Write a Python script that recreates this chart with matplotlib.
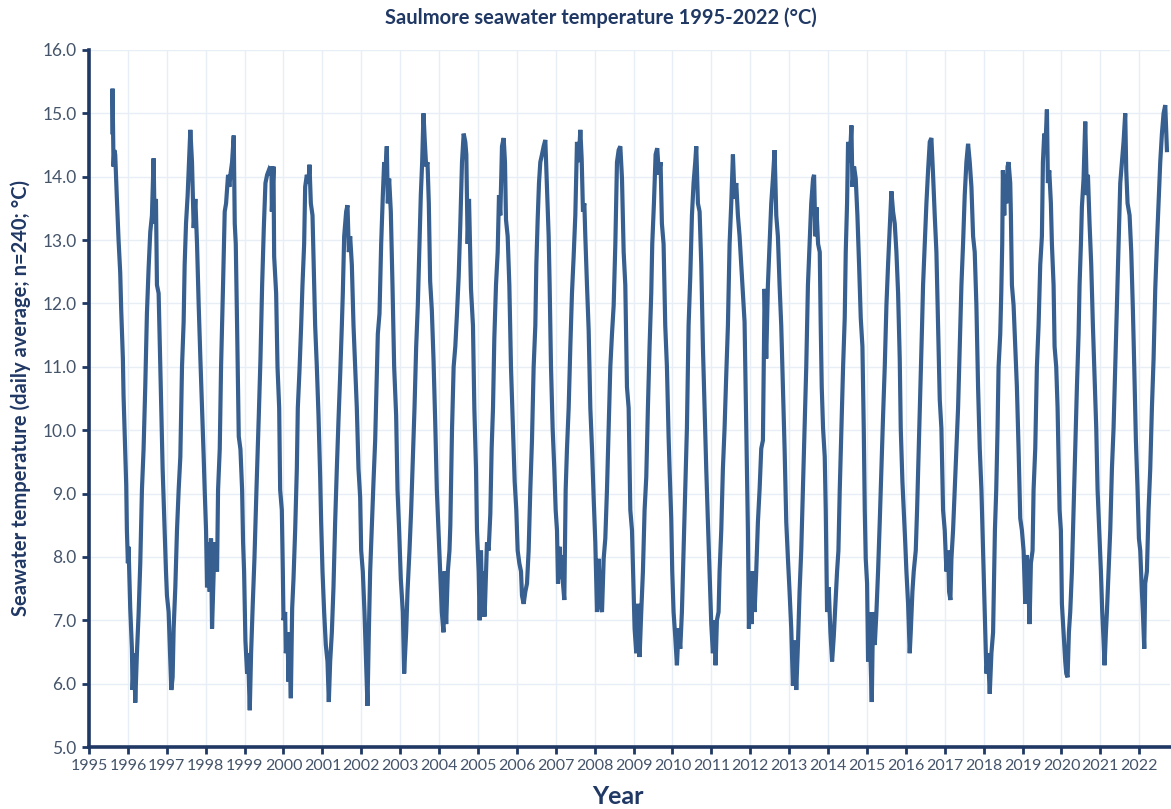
import matplotlib
matplotlib.use("Agg")
import matplotlib.pyplot as plt
from matplotlib.ticker import FormatStrFormatter, MultipleLocator

plt.rcParams['font.family'] = ['Lato', 'DejaVu Sans']

title = "Saulmore seawater temperature 1995-2022 (°C)"
y_label = "Seawater temperature (daily average; n=240; °C)"
x_label = "Year"
year_ticks = list(range(1995, 2023))

# decimal year of each reading
sample_year = [
    1995.600, 1995.605, 1995.631, 1995.650, 1995.674, 1995.717, 1995.760, 1995.803, 1995.828, 1995.871,
    1995.888, 1995.931, 1995.957, 1995.974, 1996.000, 1996.017, 1996.060, 1996.103, 1996.120, 1996.163,
    1996.189, 1996.232, 1996.275, 1996.318, 1996.361, 1996.403, 1996.446, 1996.489, 1996.532, 1996.575,
    1996.618, 1996.661, 1996.687, 1996.721, 1996.747, 1996.790, 1996.815, 1996.858, 1996.893, 1996.927,
    1996.979, 1997.004, 1997.047, 1997.073, 1997.116, 1997.150, 1997.176, 1997.219, 1997.262, 1997.305,
    1997.348, 1997.391, 1997.433, 1997.459, 1997.494, 1997.536, 1997.562, 1997.605, 1997.648, 1997.691,
    1997.734, 1997.777, 1997.820, 1997.863, 1997.906, 1997.948, 1997.974, 1998.009, 1998.034, 1998.077,
    1998.103, 1998.137, 1998.163, 1998.206, 1998.249, 1998.292, 1998.318, 1998.361, 1998.395, 1998.446,
    1998.489, 1998.524, 1998.575, 1998.609, 1998.635, 1998.678, 1998.721, 1998.747, 1998.773, 1998.807,
    1998.850, 1998.893, 1998.936, 1998.961, 1998.987, 1999.021, 1999.064, 1999.090, 1999.133, 1999.167,
    1999.210, 1999.253, 1999.305, 1999.365, 1999.408, 1999.451, 1999.494, 1999.536, 1999.579, 1999.622,
    1999.665, 1999.691, 1999.700, 1999.743, 1999.760, 1999.811, 1999.846, 1999.889, 1999.914, 1999.957,
    1999.983, 2000.000, 2000.043, 2000.060, 2000.103, 2000.129, 2000.154, 2000.189, 2000.223, 2000.257,
    2000.300, 2000.343, 2000.368, 2000.411, 2000.454, 2000.488, 2000.531, 2000.557, 2000.600, 2000.643,
    2000.668, 2000.703, 2000.746, 2000.771, 2000.814, 2000.857, 2000.900, 2000.943, 2000.968, 2001.003,
    2001.045, 2001.088, 2001.131, 2001.165, 2001.200, 2001.243, 2001.285, 2001.328, 2001.371, 2001.414,
    2001.457, 2001.500, 2001.525, 2001.560, 2001.611, 2001.645, 2001.680, 2001.714, 2001.757, 2001.800,
    2001.842, 2001.885, 2001.928, 2001.971, 2001.997, 2002.039, 2002.082, 2002.117, 2002.159, 2002.194,
    2002.228, 2002.271, 2002.314, 2002.357, 2002.399, 2002.425, 2002.468, 2002.511, 2002.554, 2002.588,
    2002.614, 2002.656, 2002.682, 2002.716, 2002.759, 2002.802, 2002.845, 2002.896, 2002.931, 2002.973,
    2003.016, 2003.068, 2003.102, 2003.153, 2003.188, 2003.239, 2003.282, 2003.325, 2003.368, 2003.411,
    2003.453, 2003.496, 2003.530, 2003.565, 2003.599, 2003.633, 2003.668, 2003.702, 2003.736, 2003.770,
    2003.813, 2003.856, 2003.899, 2003.942, 2003.985, 2004.027, 2004.070, 2004.113, 2004.139, 2004.182,
    2004.225, 2004.267, 2004.289, 2004.332, 2004.374, 2004.417, 2004.460, 2004.503, 2004.546, 2004.589,
    2004.632, 2004.674, 2004.700, 2004.734, 2004.769, 2004.820, 2004.871, 2004.906, 2004.949, 2004.974,
    2005.017, 2005.043, 2005.077, 2005.111, 2005.146, 2005.171, 2005.206, 2005.231, 2005.274, 2005.317,
    2005.351, 2005.386, 2005.420, 2005.463, 2005.506, 2005.540, 2005.574, 2005.617, 2005.660, 2005.694,
    2005.720, 2005.763, 2005.806, 2005.848, 2005.900, 2005.943, 2005.985, 2006.020, 2006.063, 2006.106,
    2006.131, 2006.174, 2006.217, 2006.260, 2006.302, 2006.345, 2006.388, 2006.431, 2006.474, 2006.500,
    2006.534, 2006.568, 2006.602, 2006.645, 2006.688, 2006.731, 2006.774, 2006.817, 2006.842, 2006.877,
    2006.919, 2006.962, 2006.997, 2007.031, 2007.057, 2007.099, 2007.117, 2007.151, 2007.185, 2007.219,
    2007.254, 2007.288, 2007.331, 2007.374, 2007.416, 2007.459, 2007.502, 2007.545, 2007.588, 2007.631,
    2007.665, 2007.699, 2007.734, 2007.759, 2007.802, 2007.845, 2007.888, 2007.931, 2007.973, 2008.016,
    2008.059, 2008.102, 2008.145, 2008.188, 2008.231, 2008.273, 2008.316, 2008.359, 2008.402, 2008.445,
    2008.488, 2008.531, 2008.573, 2008.616, 2008.659, 2008.702, 2008.745, 2008.787, 2008.830, 2008.873,
    2008.916, 2008.959, 2009.002, 2009.026, 2009.069, 2009.111, 2009.154, 2009.197, 2009.240, 2009.283,
    2009.326, 2009.368, 2009.411, 2009.454, 2009.480, 2009.523, 2009.566, 2009.608, 2009.651, 2009.694,
    2009.728, 2009.771, 2009.814, 2009.857, 2009.900, 2009.925, 2009.968, 2009.994, 2010.028, 2010.071,
    2010.114, 2010.157, 2010.200, 2010.242, 2010.285, 2010.328, 2010.371, 2010.414, 2010.457, 2010.500,
    2010.542, 2010.585, 2010.611, 2010.654, 2010.697, 2010.740, 2010.782, 2010.825, 2010.868, 2010.911,
    2010.954, 2010.997, 2011.039, 2011.082, 2011.108, 2011.142, 2011.185, 2011.211, 2011.254, 2011.296,
    2011.339, 2011.382, 2011.425, 2011.468, 2011.511, 2011.554, 2011.596, 2011.639, 2011.682, 2011.725,
    2011.768, 2011.811, 2011.853, 2011.896, 2011.939, 2011.965, 2011.999, 2012.033, 2012.068, 2012.111,
    2012.153, 2012.196, 2012.239, 2012.282, 2012.325, 2012.368, 2012.410, 2012.453, 2012.496, 2012.539,
    2012.582, 2012.625, 2012.668, 2012.710, 2012.753, 2012.796, 2012.839, 2012.882, 2012.925, 2012.968,
    2013.010, 2013.053, 2013.096, 2013.139, 2013.182, 2013.225, 2013.267, 2013.310, 2013.353, 2013.396,
    2013.439, 2013.482, 2013.524, 2013.567, 2013.614, 2013.640, 2013.674, 2013.700, 2013.743, 2013.786,
    2013.811, 2013.837, 2013.871, 2013.914, 2013.940, 2013.957, 2013.974, 2014.017, 2014.060, 2014.103,
    2014.146, 2014.189, 2014.231, 2014.266, 2014.300, 2014.343, 2014.386, 2014.428, 2014.454, 2014.488,
    2014.514, 2014.557, 2014.600, 2014.626, 2014.668, 2014.711, 2014.754, 2014.797, 2014.840, 2014.883,
    2014.917, 2014.943, 2014.968, 2015.003, 2015.028, 2015.054, 2015.088, 2015.123, 2015.157, 2015.200,
    2015.243, 2015.285, 2015.328, 2015.371, 2015.414, 2015.457, 2015.500, 2015.542, 2015.585, 2015.628,
    2015.671, 2015.714, 2015.757, 2015.800, 2015.842, 2015.868, 2015.911, 2015.945, 2015.979, 2016.014,
    2016.057, 2016.099, 2016.125, 2016.168, 2016.202, 2016.254, 2016.288, 2016.331, 2016.374, 2016.416,
    2016.442, 2016.485, 2016.528, 2016.571, 2016.614, 2016.656, 2016.699, 2016.742, 2016.785, 2016.828,
    2016.871, 2016.913, 2016.956, 2016.999, 2017.042, 2017.085, 2017.111, 2017.145, 2017.171, 2017.213,
    2017.256, 2017.299, 2017.342, 2017.385, 2017.428, 2017.470, 2017.513, 2017.556, 2017.599, 2017.642,
    2017.685, 2017.728, 2017.770, 2017.813, 2017.856, 2017.899, 2017.942, 2017.985, 2018.027, 2018.070,
    2018.113, 2018.156, 2018.199, 2018.242, 2018.289, 2018.323, 2018.357, 2018.383, 2018.426, 2018.452,
    2018.477, 2018.494, 2018.529, 2018.554, 2018.580, 2018.614, 2018.640, 2018.683, 2018.700, 2018.726,
    2018.769, 2018.811, 2018.854, 2018.897, 2018.940, 2018.983, 2019.026, 2019.069, 2019.111, 2019.154,
    2019.180, 2019.214, 2019.257, 2019.283, 2019.326, 2019.368, 2019.411, 2019.454, 2019.497, 2019.523,
    2019.557, 2019.583, 2019.626, 2019.651, 2019.686, 2019.728, 2019.754, 2019.797, 2019.823, 2019.865,
    2019.900, 2019.925, 2019.951, 2019.985, 2020.011, 2020.054, 2020.097, 2020.123, 2020.157, 2020.191,
    2020.225, 2020.268, 2020.311, 2020.354, 2020.397, 2020.440, 2020.465, 2020.500, 2020.525, 2020.568,
    2020.611, 2020.654, 2020.680, 2020.722, 2020.765, 2020.808, 2020.842, 2020.894, 2020.928, 2020.971,
    2021.014, 2021.048, 2021.082, 2021.108, 2021.142, 2021.168, 2021.211, 2021.254, 2021.297, 2021.339,
    2021.382, 2021.425, 2021.468, 2021.511, 2021.554, 2021.596, 2021.639, 2021.665, 2021.699, 2021.751,
    2021.794, 2021.836, 2021.871, 2021.913, 2021.956, 2021.991, 2022.025, 2022.068, 2022.093, 2022.128,
    2022.153, 2022.196, 2022.239, 2022.282, 2022.325, 2022.368, 2022.411, 2022.453, 2022.496, 2022.539,
    2022.582, 2022.625, 2022.668, 2022.711,
]

# daily average seawater temperature (°C) at each reading
temperature_c = [
    14.70, 15.39, 14.16, 14.42, 14.35, 13.65, 13.00, 12.48, 11.90, 11.13,
    10.55, 9.70, 9.13, 8.42, 7.90, 8.16, 7.19, 6.55, 5.90, 6.48,
    5.70, 6.48, 7.10, 7.90, 9.06, 9.70, 10.68, 11.84, 12.55, 13.13,
    13.39, 14.29, 13.26, 13.65, 12.29, 12.16, 11.50, 10.35, 9.39, 8.74,
    7.77, 7.39, 7.13, 6.68, 5.90, 6.10, 6.87, 7.52, 8.42, 9.06,
    9.58, 11.00, 11.71, 12.61, 13.26, 13.71, 14.10, 14.74, 14.23, 13.19,
    13.65, 12.94, 11.97, 11.13, 10.35, 9.58, 9.06, 8.42, 7.52, 8.23,
    7.45, 8.29, 6.87, 7.77, 8.23, 7.77, 9.06, 9.70, 11.00, 12.29,
    13.45, 13.58, 14.03, 13.84, 14.03, 14.23, 14.65, 13.26, 12.94, 11.65,
    9.90, 9.70, 9.06, 8.23, 7.77, 6.68, 6.16, 6.48, 5.58, 6.48,
    7.26, 7.97, 9.06, 10.23, 11.13, 12.29, 13.19, 13.90, 14.03, 14.10,
    14.03, 14.16, 13.45, 14.16, 12.74, 12.16, 11.00, 10.35, 9.06, 8.74,
    7.77, 7.00, 7.13, 6.48, 6.81, 6.03, 6.55, 5.77, 7.19, 7.65,
    8.42, 9.39, 10.35, 10.94, 11.65, 12.29, 12.94, 13.84, 14.03, 13.90,
    14.19, 13.58, 13.39, 12.74, 11.65, 11.00, 10.23, 9.26, 8.55, 7.77,
    7.13, 6.61, 6.35, 5.71, 6.35, 6.81, 7.52, 8.55, 9.39, 10.16,
    10.87, 11.65, 12.16, 13.06, 13.45, 13.55, 12.81, 13.06, 12.61, 11.65,
    11.00, 10.35, 9.39, 8.94, 8.10, 7.77, 7.13, 6.48, 5.65, 6.81,
    7.77, 8.48, 9.19, 9.84, 10.87, 11.52, 11.84, 12.94, 13.71, 14.23,
    14.03, 14.48, 13.58, 13.97, 13.45, 12.29, 11.00, 10.23, 9.06, 8.42,
    7.65, 7.13, 6.16, 6.81, 7.45, 8.10, 8.74, 9.52, 10.35, 11.32,
    11.97, 12.94, 13.71, 14.23, 15.00, 14.55, 14.16, 14.23, 13.58, 12.35,
    11.90, 11.13, 10.16, 9.06, 8.42, 7.77, 7.13, 6.81, 7.77, 6.94,
    7.77, 8.10, 8.50, 10.00, 11.00, 11.32, 11.84, 12.42, 13.26, 14.23,
    14.68, 14.55, 14.35, 12.94, 13.65, 12.23, 11.65, 10.35, 9.39, 8.42,
    7.77, 7.00, 8.10, 7.06, 7.77, 7.06, 7.77, 8.23, 8.10, 8.68,
    9.71, 10.35, 11.45, 12.29, 12.81, 13.71, 13.39, 14.48, 14.61, 14.23,
    13.32, 13.06, 12.29, 11.00, 10.03, 9.19, 8.74, 8.10, 7.90, 7.77,
    7.39, 7.26, 7.45, 7.58, 8.10, 9.06, 9.84, 11.00, 11.65, 12.61,
    13.32, 13.90, 14.23, 14.35, 14.48, 14.58, 13.84, 13.06, 12.29, 11.00,
    10.03, 9.39, 8.74, 8.42, 7.58, 8.16, 7.65, 8.03, 7.58, 7.32,
    9.06, 9.71, 10.35, 11.32, 12.16, 12.74, 13.39, 14.55, 14.23, 14.74,
    14.29, 13.45, 13.58, 13.06, 12.29, 11.58, 10.35, 9.71, 8.94, 8.23,
    7.13, 7.97, 7.26, 7.13, 7.97, 8.29, 9.06, 10.03, 11.00, 11.52,
    11.97, 12.94, 14.23, 14.42, 14.48, 13.97, 12.81, 12.29, 10.68, 10.35,
    8.74, 8.42, 7.45, 6.87, 6.48, 7.26, 6.42, 7.13, 7.77, 8.74,
    9.26, 10.35, 11.32, 12.16, 12.94, 13.58, 14.35, 14.45, 14.03, 14.23,
    13.26, 12.94, 11.65, 11.00, 9.90, 9.39, 8.61, 7.77, 7.13, 6.74,
    6.29, 6.87, 6.55, 7.13, 8.10, 9.06, 10.03, 11.65, 12.42, 13.39,
    13.90, 14.23, 14.48, 13.58, 13.45, 12.61, 11.32, 10.35, 9.39, 8.55,
    7.77, 6.94, 6.48, 7.00, 6.29, 7.00, 7.13, 7.77, 8.42, 9.39,
    10.03, 10.87, 11.65, 12.94, 13.58, 14.35, 13.65, 13.90, 13.39, 13.06,
    12.61, 12.16, 11.71, 10.03, 8.42, 6.87, 7.77, 6.94, 7.77, 7.13,
    7.77, 8.55, 9.06, 9.71, 9.84, 12.23, 11.13, 12.29, 12.94, 13.58,
    13.97, 14.42, 13.39, 13.06, 12.29, 11.65, 10.68, 9.71, 8.55, 7.97,
    7.45, 6.87, 5.97, 6.68, 5.90, 6.61, 7.45, 8.10, 9.06, 10.03,
    11.00, 12.29, 12.94, 13.58, 13.97, 14.03, 13.06, 13.52, 12.94, 12.81,
    11.65, 10.68, 10.03, 9.58, 8.74, 7.90, 7.13, 7.52, 6.81, 6.35,
    6.74, 7.26, 7.77, 8.10, 9.06, 10.03, 11.00, 11.77, 12.81, 13.58,
    14.55, 14.23, 14.81, 13.84, 14.16, 13.97, 13.39, 12.61, 11.77, 11.32,
    10.03, 8.74, 7.97, 7.58, 6.35, 7.13, 6.48, 5.71, 7.13, 6.61,
    7.13, 7.77, 8.55, 9.39, 10.23, 11.00, 11.97, 12.61, 13.19, 13.77,
    13.45, 13.26, 12.81, 12.16, 11.13, 10.03, 9.19, 8.74, 8.29, 7.77,
    7.26, 6.48, 6.81, 7.45, 7.77, 8.10, 8.74, 9.71, 10.68, 11.65,
    12.29, 12.94, 13.58, 14.10, 14.55, 14.61, 14.03, 13.39, 12.81, 11.65,
    10.48, 10.03, 8.74, 8.42, 7.77, 8.10, 7.45, 7.32, 7.97, 8.42,
    9.06, 9.71, 10.35, 11.32, 12.29, 12.94, 13.71, 14.23, 14.52, 14.23,
    13.84, 13.06, 12.81, 11.97, 10.68, 9.71, 9.06, 8.10, 7.13, 6.16,
    6.48, 5.84, 6.48, 6.81, 8.42, 9.06, 10.03, 11.00, 11.52, 12.16,
    12.94, 14.10, 13.39, 14.03, 13.58, 14.16, 14.23, 13.90, 13.39, 12.29,
    11.97, 11.32, 10.68, 9.71, 8.61, 8.42, 8.10, 7.26, 8.03, 7.45,
    6.94, 7.90, 8.10, 9.06, 9.71, 11.00, 11.65, 12.61, 13.06, 14.23,
    14.68, 14.42, 15.06, 13.90, 14.10, 13.58, 12.94, 12.29, 11.32, 11.00,
    10.35, 9.58, 8.74, 8.42, 7.26, 6.81, 6.35, 6.16, 6.10, 6.81,
    7.13, 7.77, 8.74, 9.71, 10.68, 11.52, 12.29, 12.94, 13.52, 13.97,
    14.87, 13.71, 14.03, 13.26, 12.61, 11.65, 11.00, 10.03, 9.06, 8.42,
    7.77, 7.13, 6.68, 6.29, 6.81, 7.13, 7.77, 8.42, 9.39, 10.03,
    11.00, 11.97, 12.94, 13.90, 14.23, 14.55, 15.00, 14.10, 13.58, 13.39,
    12.81, 11.90, 11.00, 9.84, 9.06, 8.29, 8.10, 7.45, 7.13, 6.55,
    7.58, 7.77, 8.74, 9.39, 10.35, 11.13, 12.23, 12.94, 13.58, 14.23,
    14.68, 15.00, 15.13, 14.42,
]

line_color = "#375F8F"
navy = "#203864"
grid_color = "#E8EEF6"
tick_text = "#44546A"

fig = plt.figure(figsize=(11.71, 8.09), dpi=100)
ax = fig.add_axes([89 / 1171, 1 - 747 / 809, 1081 / 1171, 697 / 809])

ax.plot(sample_year, temperature_c, color=line_color, linewidth=3.0, solid_joinstyle='miter')

ax.set_xlim(1995, 2022.79)
ax.set_ylim(5.0, 16.0)
ax.set_xticks(year_ticks)
ax.set_xticklabels([str(y) for y in year_ticks])
ax.yaxis.set_major_locator(MultipleLocator(1.0))
ax.yaxis.set_major_formatter(FormatStrFormatter('%.1f'))

ax.grid(True, color=grid_color, linewidth=1.0)
ax.set_axisbelow(True)
for s in ['top', 'right']:
    ax.spines[s].set_visible(False)
for s in ['left', 'bottom']:
    ax.spines[s].set_color(navy)
    ax.spines[s].set_linewidth(2.6)

ax.tick_params(axis='x', colors=navy, length=5, width=2.0, direction='out',
               labelsize=11.5, labelcolor=tick_text, pad=4)
ax.tick_params(axis='y', colors=navy, length=5, width=2.0, direction='out',
               labelsize=12.5, labelcolor=tick_text, pad=4)

fig.text(601 / 1171, 1 - 18 / 809, title, fontsize=14.5, fontweight='bold',
         color=navy, ha='center', va='center')
ax.set_ylabel(y_label, fontsize=14.5, fontweight='bold', color=navy, labelpad=8)
fig.text(618 / 1171, 1 - 796 / 809, x_label, fontsize=18, fontweight='bold',
         color=navy, ha='center', va='center')

fig.savefig("out.png", dpi=100)
